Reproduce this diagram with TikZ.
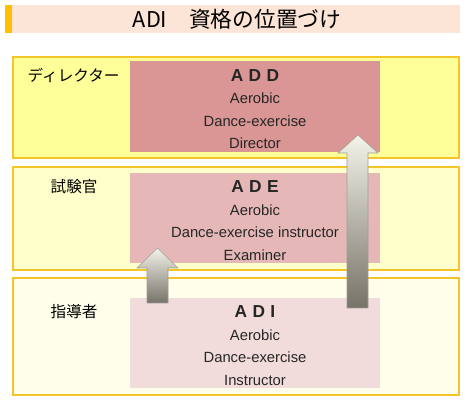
\documentclass[tikz,border=0pt]{standalone}
\usepackage{fontspec}
\setmainfont{Liberation Sans}
\newfontfamily\jpfont{Noto Sans CJK JP}
\usetikzlibrary{positioning}
\definecolor{titlebg}{RGB}{252,228,214}
\definecolor{titlemark}{RGB}{255,192,0}
\definecolor{bandline}{RGB}{244,196,40}
\definecolor{bandA}{RGB}{255,255,153}
\definecolor{bandB}{RGB}{255,255,204}
\definecolor{bandC}{RGB}{255,255,236}
\definecolor{boxA}{RGB}{217,150,148}
\definecolor{boxB}{RGB}{229,184,183}
\definecolor{boxC}{RGB}{242,220,219}
\definecolor{arrowtop}{RGB}{244,243,234}
\definecolor{arrowbot}{RGB}{118,115,104}
\tikzstyle{band} = [draw=bandline,line width=1.5pt]
\tikzstyle{rankbox} = [minimum width=187.5pt,minimum height=68pt,inner sep=0pt]
\tikzstyle{ranktext} = [inner sep=0pt,align=center,font=\fontsize{11.1}{16.9}\selectfont,text=black!85]
\tikzstyle{rankname} = [anchor=west,font=\jpfont\fontsize{11.7}{13}\selectfont]
\tikzstyle{uparrow} = [draw=arrowbot!70,line width=0.4pt,top color=arrowtop,bottom color=arrowbot]
\newcommand{\abbr}[3]{{\bfseries\fontsize{13}{14}\selectfont #1\kern4pt #2\kern4pt #3}}

\begin{document}
\begin{tikzpicture}[x=0.75pt,y=0.75pt,yscale=-1,xscale=1]
\useasboundingbox (0,0) rectangle (465,402);

% Title
\fill[titlebg] (12,5) rectangle (460,33);
\fill[titlemark] (5,5) rectangle (12,33);
\node (title) at (237,19) {\jpfont\fontsize{16.3}{18}\selectfont ADI\quad 資格の位置づけ};

% Bands
\draw[band,fill=bandA] (13,57) rectangle (459,158);
\draw[band,fill=bandB] (13,167) rectangle (459,270);
\draw[band,fill=bandC] (13,278) rectangle (459,395);

% Rank names
\node[rankname] (director) at (23,75) {ディレクター};
\node[rankname] (examiner) at (46,187) {試験官};
\node[rankname] (instructor) at (46,312) {指導者};

% Rank boxes
\node[rankbox,fill=boxA] (add) at (255,106.5) {};
\node[rankbox,fill=boxB] (ade) at (255,218) {};
\node[rankbox,fill=boxC] (adi) at (255,343) {};
\node[ranktext] (addtext) at ([yshift=2pt]add) {\abbr ADD\\Aerobic\\Dance-exercise\\Director};
\node[ranktext] (adetext) at ([yshift=2pt]ade) {\abbr ADE\\Aerobic\\Dance-exercise instructor\\Examiner};
\node[ranktext] (aditext) at ([yshift=2pt]adi) {\abbr ADI\\Aerobic\\Dance-exercise\\Instructor};

% Block arrows
\shade[uparrow] (147,303) -- (147,268) -- (137,268) -- (157.5,248) -- (178,268) -- (168,268) -- (168,303) -- cycle;
\shade[uparrow] (347,308) -- (347,153) -- (338,153) -- (358,135) -- (378,153) -- (368,153) -- (368,308) -- cycle;

\end{tikzpicture}
\end{document}
